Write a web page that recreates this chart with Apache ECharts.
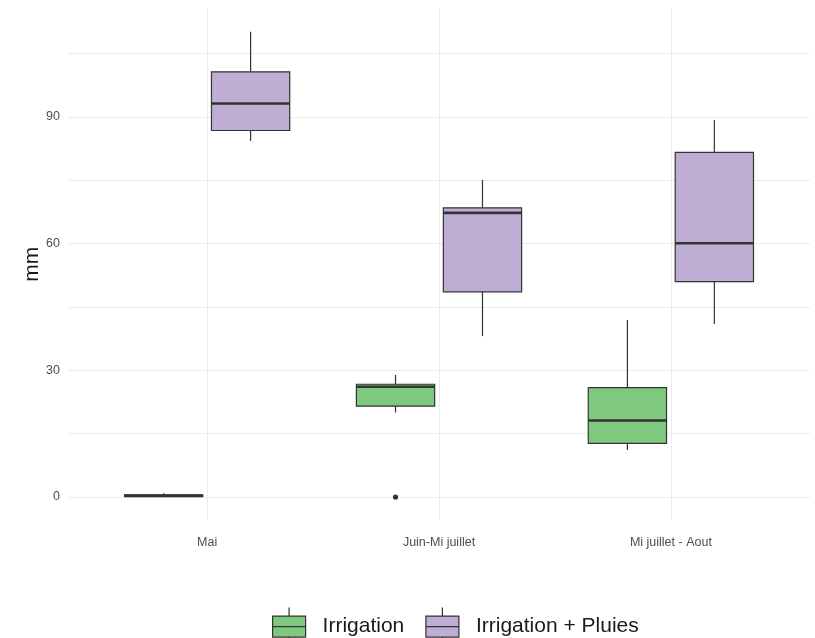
<!DOCTYPE html>
<html>
<head>
<meta charset="utf-8">
<script src="https://cdn.jsdelivr.net/npm/echarts@6/dist/echarts.min.js"></script>
<style>
  html, body { margin: 0; padding: 0; background: #ffffff; }
  #chart { width: 815px; height: 638px; }
</style>
</head>
<body>
<div id="chart"></div>
<script>
// ---- Data ----
const categories = ['Mai', 'Juin-Mi juillet', 'Mi juillet - Aout'];
// [min, Q1, median, Q3, max] per category
const irrigation = [
  [0.0, 0.1, 0.3, 0.5, 0.9],
  [20.0, 21.5, 26.1, 26.7, 28.9],
  [11.1, 12.7, 18.1, 25.9, 41.9]
];
const irrigationPluies = [
  [84.3, 86.8, 93.2, 100.7, 110.2],
  [38.1, 48.6, 67.3, 68.5, 75.1],
  [41.0, 51.0, 60.1, 81.6, 89.3]
];
// outliers: [categoryIndex, value]
const irrigationOutliers = [[1, 0]];
const irrigationPluiesOutliers = [];
const yLabelValues = [0, 30, 60, 90];
const yGridValues = [0, 15, 30, 45, 60, 75, 90, 105];
const seriesNames = ['Irrigation', 'Irrigation + Pluies'];

// ---- Styling / layout ----
const FONT = "'Liberation Sans', Arial, sans-serif";
const colors = ['#7fc97f', '#beaed4'];
const edge = '#333333';
const dodge = 0.1875;      // half of the dodge width 0.75
const halfBox = 0.16875;   // box half width (0.375 * 0.9 / 2)

function boxRender(offset, fill) {
  return function (params, api) {
    const x = api.value(0) + offset;
    const vmin = api.value(1), q1 = api.value(2), med = api.value(3), q3 = api.value(4), vmax = api.value(5);
    const pTopWh = api.coord([x, vmax]);
    const pQ3 = api.coord([x, q3]);
    const pQ1 = api.coord([x, q1]);
    const pBotWh = api.coord([x, vmin]);
    const pL = api.coord([x - halfBox, med]);
    const pR = api.coord([x + halfBox, med]);
    const left = pL[0], right = pR[0];
    return {
      type: 'group',
      children: [
        { type: 'line', shape: { x1: pTopWh[0], y1: pTopWh[1], x2: pQ3[0], y2: pQ3[1] }, style: { stroke: edge, lineWidth: 1.2 } },
        { type: 'line', shape: { x1: pQ1[0], y1: pQ1[1], x2: pBotWh[0], y2: pBotWh[1] }, style: { stroke: edge, lineWidth: 1.2 } },
        { type: 'rect', shape: { x: left, y: pQ3[1], width: right - left, height: pQ1[1] - pQ3[1] }, style: { fill: fill, stroke: edge, lineWidth: 1.2 } },
        { type: 'line', shape: { x1: left, y1: pL[1], x2: right, y2: pR[1] }, style: { stroke: edge, lineWidth: 2.6 } }
      ]
    };
  };
}
function outlierRender(offset) {
  return function (params, api) {
    const p = api.coord([api.value(0) + offset, api.value(1)]);
    return { type: 'circle', shape: { cx: p[0], cy: p[1], r: 2.6 }, style: { fill: edge } };
  };
}

const boxData = (arr) => arr.map((v, i) => [i + 1].concat(v));
const outData = (arr) => arr.map((o) => [o[0] + 1, o[1]]);

const legendIcon = 'path://M16.5 0 L16.5 8.5 M0 8.5 L33 8.5 L33 29.5 L0 29.5 Z M0 19 L33 19 M16.5 29.5 L16.5 38';

const option = {
  animation: false,
  backgroundColor: '#ffffff',
  grid: { left: 68, right: 5, top: 8.5, bottom: 117.8, containLabel: false },
  xAxis: {
    type: 'value',
    min: 0.4,
    max: 3.6,
    axisLine: { show: false },
    axisTick: { show: false, customValues: [1, 2, 3] },
    axisLabel: {
      customValues: [1, 2, 3],
      formatter: (v) => categories[Math.round(v) - 1] || '',
      color: '#4d4d4d',
      fontFamily: FONT,
      fontSize: 12.5,
      margin: 16
    },
    splitLine: { show: true, lineStyle: { color: '#ebebeb', width: 1 } }
  },
  yAxis: {
    type: 'value',
    min: -5.5,
    max: 115.7,
    name: 'mm',
    nameLocation: 'middle',
    nameGap: 25,
    nameRotate: 90,
    nameMoveOverlap: false,
    nameTextStyle: { color: '#1a1a1a', fontFamily: FONT, fontSize: 21 },
    axisLine: { show: false },
    axisTick: { show: false, customValues: yGridValues },
    axisLabel: {
      customValues: yLabelValues,
      color: '#4d4d4d',
      fontFamily: FONT,
      fontSize: 12.5,
      margin: 8
    },
    splitLine: { show: true, lineStyle: { color: '#ebebeb', width: 1 } }
  },
  legend: {
    left: 267,
    top: 602,
    orient: 'horizontal',
    itemWidth: 33,
    itemHeight: 38,
    itemGap: 21,
    selectedMode: false,
    textStyle: { color: '#1a1a1a', fontFamily: FONT, fontSize: 21, padding: [0, 0, 0, 12] },
    data: [
      { name: seriesNames[0], icon: legendIcon, itemStyle: { color: colors[0], borderColor: edge, borderWidth: 1.2 } },
      { name: seriesNames[1], icon: legendIcon, itemStyle: { color: colors[1], borderColor: edge, borderWidth: 1.2 } }
    ]
  },
  series: [
    {
      name: seriesNames[0],
      type: 'custom',
      renderItem: boxRender(-dodge, colors[0]),
      itemStyle: { color: colors[0], borderColor: edge },
      encode: { x: 0, y: [1, 2, 3, 4, 5] },
      data: boxData(irrigation)
    },
    {
      name: seriesNames[0],
      type: 'custom',
      renderItem: outlierRender(-dodge),
      itemStyle: { color: colors[0], borderColor: edge },
      encode: { x: 0, y: 1 },
      data: outData(irrigationOutliers)
    },
    {
      name: seriesNames[1],
      type: 'custom',
      renderItem: boxRender(dodge, colors[1]),
      itemStyle: { color: colors[1], borderColor: edge },
      encode: { x: 0, y: [1, 2, 3, 4, 5] },
      data: boxData(irrigationPluies)
    },
    {
      name: seriesNames[1],
      type: 'custom',
      renderItem: outlierRender(dodge),
      itemStyle: { color: colors[1], borderColor: edge },
      encode: { x: 0, y: 1 },
      data: outData(irrigationPluiesOutliers)
    }
  ]
};

const chart = echarts.init(document.getElementById('chart'), null, { renderer: 'canvas' });
chart.setOption(option);
</script>
</body>
</html>
